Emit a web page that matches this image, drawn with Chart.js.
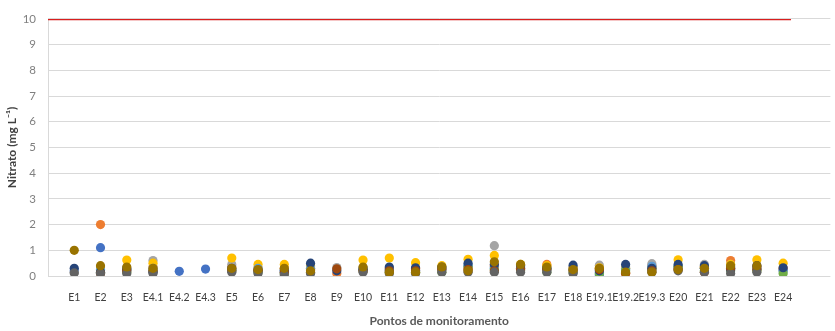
<!DOCTYPE html>
<html>
<head>
<meta charset="utf-8">
<script src="https://cdn.jsdelivr.net/npm/chart.js@4/dist/chart.umd.min.js"></script>
<style>
  html, body { margin: 0; padding: 0; background: #fff; }
  #wrap { width: 835px; height: 331px; }
</style>
</head>
<body>
<div id="wrap"><canvas id="nitrato"></canvas></div>
<script>
// monitoring points along the x axis (positions 1..28)
const pontos = ['E1', 'E2', 'E3', 'E4.1', 'E4.2', 'E4.3', 'E5', 'E6', 'E7', 'E8', 'E9', 'E10', 'E11', 'E12',
  'E13', 'E14', 'E15', 'E16', 'E17', 'E18', 'E19.1', 'E19.2', 'E19.3', 'E20', 'E21', 'E22', 'E23', 'E24'];

const yTicks = [0, 1, 2, 3, 4, 5, 6, 7, 8, 9, 10];

// limit value (mg/L) drawn as the red line
const limite = 10;

// one array per sampling campaign, nitrate in mg/L, null = not sampled
const camp1 = [0.2, 1.1, 0.2, 0.2, 0.18, 0.27, 0.2, 0.2, 0.15, 0.3, null, 0.25, 0.2, 0.2,
  0.25, 0.4, 0.35, 0.3, 0.2, 0.3, 0.05, 0.3, 0.35, 0.35, 0.3, 0.3, 0.3, 0.25];
const camp2 = [null, 2.0, 0.3, 0.35, null, null, 0.35, 0.3, 0.3, 0.25, 0.1, 0.3, 0.3, 0.3,
  0.3, 0.3, 0.4, 0.3, 0.45, 0.3, 0.3, 0.1, 0.4, 0.3, 0.35, 0.6, 0.35, 0.3];
const camp3 = [0.15, 0.2, 0.25, 0.6, null, null, 0.45, 0.25, 0.25, 0.4, 0.33, 0.3, 0.25, 0.25,
  0.2, 0.2, 1.18, 0.4, 0.25, 0.2, 0.42, 0.35, 0.48, 0.3, 0.45, 0.45, 0.3, 0.2];
const camp4 = [null, 0.35, 0.62, 0.5, null, null, 0.7, 0.45, 0.45, 0.35, null, 0.62, 0.7, 0.52,
  0.4, 0.65, 0.8, 0.45, 0.4, 0.3, 0.32, 0.3, 0.3, 0.63, 0.35, 0.45, 0.63, 0.5];
const camp5 = [null, 0.25, 0.3, 0.3, null, null, 0.25, 0.3, 0.2, 0.3, null, 0.3, 0.25, 0.2,
  0.3, 0.4, 0.3, 0.35, 0.3, 0.25, 0.15, 0.25, 0.38, 0.35, 0.3, 0.35, 0.25, 0.2];
const camp6 = [null, 0.15, 0.15, 0.2, null, null, 0.2, 0.15, 0.1, 0.15, null, 0.2, 0.15, 0.15,
  0.15, 0.35, 0.25, 0.2, 0.15, 0.15, 0.1, 0.2, 0.25, 0.38, 0.2, 0.2, 0.2, 0.1];
const camp7 = [0.3, 0.15, 0.25, 0.15, null, null, 0.3, 0.2, 0.2, 0.5, 0.2, 0.25, 0.35, 0.32,
  0.35, 0.5, 0.45, 0.4, 0.3, 0.42, 0.2, 0.45, 0.3, 0.45, 0.4, 0.25, 0.4, 0.32];
const camp8 = [null, 0.1, 0.2, 0.2, null, null, 0.2, 0.2, 0.15, 0.15, 0.28, 0.2, 0.2, 0.2,
  0.25, 0.25, 0.2, 0.25, 0.25, 0.2, 0.25, 0.1, 0.2, 0.25, 0.15, 0.3, 0.25, null];
const camp9 = [0.12, 0.1, 0.1, 0.1, null, null, 0.15, 0.1, 0.05, 0.1, null, 0.15, 0.1, 0.1,
  0.15, 0.15, 0.15, 0.15, 0.15, 0.1, null, null, 0.15, 0.2, 0.15, 0.1, 0.15, null];
const camp10 = [1.0, 0.4, 0.35, 0.3, null, null, 0.3, 0.25, 0.3, 0.2, null, 0.35, 0.15, 0.15,
  0.35, 0.2, 0.55, 0.45, 0.35, 0.25, 0.3, 0.15, 0.15, 0.25, 0.3, 0.4, 0.4, null];

const campanhas = [camp1, camp2, camp3, camp4, camp5, camp6, camp7, camp8, camp9, camp10];
const cores = ['#4472C4', '#ED7D31', '#A5A5A5', '#FFC000', '#5B9BD5', '#70AD47',
  '#264478', '#9E480E', '#636363', '#997300'];

function toPoints(values) {
  const pts = [];
  values.forEach((v, i) => {
    if (v !== null) pts.push({ x: i + 1, y: v });
  });
  return pts;
}

const datasets = campanhas.map((values, i) => ({
  type: 'scatter',
  label: 'Campanha ' + (i + 1),
  data: toPoints(values),
  backgroundColor: cores[i],
  borderColor: cores[i],
  pointRadius: 4.6,
  pointBorderWidth: 0,
  order: 10 - i
}));

datasets.push({
  type: 'line',
  label: 'Limite',
  data: [{ x: 0, y: limite }, { x: 28.3, y: limite }],
  borderColor: '#D81E1E',
  borderWidth: 2.6,
  pointRadius: 0,
  fill: false,
  order: 0
});

new Chart(document.getElementById('nitrato'), {
  type: 'scatter',
  data: { datasets: datasets },
  options: {
    responsive: true,
    maintainAspectRatio: false,
    animation: false,
    layout: { padding: { top: 10, right: 2, left: 0, bottom: 0 } },
    plugins: {
      legend: { display: false },
      tooltip: { enabled: false }
    },
    scales: {
      x: {
        type: 'linear',
        min: 0,
        max: 29.8,
        afterFit: scale => { scale.height = 55; },
        afterBuildTicks: scale => {
          scale.ticks = pontos.map((p, i) => ({ value: i + 1 }));
        },
        grid: { display: false, drawTicks: false },
        border: { display: false },
        ticks: {
          autoSkip: false,
          maxRotation: 0,
          padding: 15,
          color: '#404040',
          font: { family: 'Lato', size: 10.5 },
          callback: v => pontos[v - 1] || ''
        },
        title: {
          display: true,
          text: 'Pontos de monitoramento',
          color: '#595959',
          font: { family: 'Lato', size: 12, weight: 'bold' },
          padding: { top: 0, bottom: 3 }
        }
      },
      y: {
        min: 0,
        max: 10,
        afterFit: scale => { scale.width = 48; },
        afterBuildTicks: scale => {
          scale.ticks = yTicks.map(v => ({ value: v }));
        },
        grid: { color: '#D9D9D9', lineWidth: 1, drawTicks: false },
        border: { display: true, color: '#D9D9D9' },
        ticks: {
          padding: 12,
          color: '#7F7F7F',
          font: { family: 'Lato', size: 11.5 }
        },
        title: {
          display: true,
          text: 'Nitrato (mg L⁻¹)',
          color: '#404040',
          font: { family: 'Lato', size: 12, weight: 'bold' },
          padding: { top: 5, bottom: 0 }
        }
      }
    }
  }
});
</script>
</body>
</html>
